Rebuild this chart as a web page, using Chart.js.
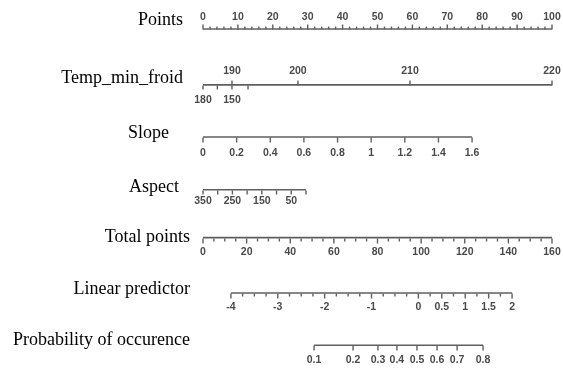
<!DOCTYPE html>
<html>
<head>
<meta charset="utf-8">
<script src="https://cdn.jsdelivr.net/npm/chart.js@4.4.1/dist/chart.umd.min.js"></script>
<style>
  html, body { margin: 0; padding: 0; background: #fff; }
</style>
</head>
<body>
<canvas id="myChart" width="563" height="371"></canvas>
<script>
// row names of the nomogram
let rowTitles = ['Points', 'Temp_min_froid', 'Slope', 'Aspect', 'Total points', 'Linear predictor', 'Probability of occurence'];

// Points (0-100)
let pointsLabels = [0, 10, 20, 30, 40, 50, 60, 70, 80, 90, 100];

// Temp_min_froid - not monotone, positions read as Points
let tempTopValues = [190, 200, 210, 220];
let tempTopPoints = [8.3, 27.2, 59.3, 100];
let tempBottomLabels = ['180', '', '150', ''];
let tempBottomPoints = [0, 4.1, 8.3, 12.9];

// Slope
let slopeValues = [0, 0.2, 0.4, 0.6, 0.8, 1, 1.2, 1.4, 1.6];
let slopeEnds = [0, 1.6];
let slopeEndPoints = [0, 77.1];

// Aspect
let aspectValues = [350, 300, 250, 200, 150, 100, 50, 0];
let aspectLabels = ['350', '', '250', '', '150', '', '50', ''];
let aspectEnds = [350, 0];
let aspectEndPoints = [0, 29.5];

// Total points (0-160)
let totalLabels = [0, 20, 40, 60, 80, 100, 120, 140, 160];

// Linear predictor
let lpLabels = [-4, -3, -2, -1, 0, 0.5, 1, 1.5, 2];
let lpEnds = [-4, 2];
let lpEndTotal = [12.8, 141.7];

// Probability of occurence, positions read as Total points
let probLabels = ['0.1', '0.2', '0.3', '0.4', '0.5', '0.6', '0.7', '0.8'];
let probTotal = [50.9, 68.8, 80.2, 88.9, 98.1, 107.3, 116.5, 128.4];

// ---- layout / style ----
let rowLevel = [0, 1.06, 2.05, 3.05, 3.96, 5.01, 6];
let titleRight = [183, 183, 169, 179, 190, 190, 190];
let titleDy = [-9, -7, -4, -3, -1, -4, -5];
let lineColor = '#5f5f5f';
let labelColor = '#4a4a4a';
let labelFont = 'bold 10.5px "Liberation Sans", Arial, sans-serif';
let titleFont = '18px "Liberation Serif", "Times New Roman", serif';

function lin(v, ends, out) {
    return out[0] + (v - ends[0]) / (ends[1] - ends[0]) * (out[1] - out[0]);
}

// build row descriptions
let rows = [];

// Points
(function () {
    let ticks = [], labels = [];
    for (let v = 0; v <= 100; v += 2) ticks.push({ pos: v, up: v % 10 === 0 ? 5 : 3, down: 0 });
    pointsLabels.forEach(v => labels.push({ pos: v, text: String(v), dy: -12 }));
    rows.push({ axis: 'x', from: 0, to: 100, ticks, labels });
})();

// Temp_min_froid
(function () {
    let ticks = [], labels = [];
    tempTopValues.forEach((v, i) => {
        ticks.push({ pos: tempTopPoints[i], up: 5, down: 0 });
        labels.push({ pos: tempTopPoints[i], text: String(v), dy: -14 });
    });
    tempBottomLabels.forEach((t, i) => {
        ticks.push({ pos: tempBottomPoints[i], up: 0, down: 4 });
        if (t) labels.push({ pos: tempBottomPoints[i], text: t, dy: 15 });
    });
    rows.push({ axis: 'x', from: 0, to: 100, ticks, labels });
})();

// Slope
(function () {
    let ticks = [], labels = [];
    slopeValues.forEach(v => {
        let p = lin(v, slopeEnds, slopeEndPoints);
        ticks.push({ pos: p, up: 0, down: 5 });
        labels.push({ pos: p, text: String(v), dy: 16 });
    });
    rows.push({ axis: 'x', from: slopeEndPoints[0], to: slopeEndPoints[1], ticks, labels });
})();

// Aspect
(function () {
    let ticks = [], labels = [];
    aspectValues.forEach((v, i) => {
        let p = lin(v, aspectEnds, aspectEndPoints);
        ticks.push({ pos: p, up: 0, down: 4 });
        if (aspectLabels[i]) labels.push({ pos: p, text: aspectLabels[i], dy: 11 });
    });
    rows.push({ axis: 'x', from: aspectEndPoints[0], to: aspectEndPoints[1], ticks, labels });
})();

// Total points
(function () {
    let ticks = [], labels = [];
    for (let v = 0; v <= 160; v += 5) ticks.push({ pos: v, up: 0, down: v % 20 === 0 ? 5 : 3 });
    totalLabels.forEach(v => labels.push({ pos: v, text: String(v), dy: 14 }));
    rows.push({ axis: 'xt', from: 0, to: 160, ticks, labels });
})();

// Linear predictor
(function () {
    let ticks = [], labels = [];
    for (let v = lpEnds[0]; v <= lpEnds[1] + 1e-9; v += 0.25) {
        let major = lpLabels.some(l => Math.abs(l - v) < 1e-9);
        ticks.push({ pos: lin(v, lpEnds, lpEndTotal), up: 0, down: major ? 5 : 3 });
    }
    lpLabels.forEach(v => labels.push({ pos: lin(v, lpEnds, lpEndTotal), text: String(v), dy: 14 }));
    rows.push({ axis: 'xt', from: lpEndTotal[0], to: lpEndTotal[1], ticks, labels });
})();

// Probability
(function () {
    let ticks = [], labels = [];
    probLabels.forEach((t, i) => {
        ticks.push({ pos: probTotal[i], up: 0, down: 5 });
        labels.push({ pos: probTotal[i], text: t, dy: 15 });
    });
    rows.push({ axis: 'xt', from: probTotal[0], to: probTotal[probTotal.length - 1], ticks, labels });
})();

// axis lines as datasets
let datasets = rows.map((r, i) => ({
    label: rowTitles[i],
    data: [{ x: r.from, y: rowLevel[i] }, { x: r.to, y: rowLevel[i] }],
    xAxisID: r.axis,
    showLine: true,
    borderColor: lineColor,
    borderWidth: 1.6,
    pointRadius: 0,
    fill: false
}));

// ticks, tick labels and row titles
let nomogramPlugin = {
    id: 'nomogram',
    afterDatasetsDraw(chart) {
        let ctx = chart.ctx;
        let ys = chart.scales.y;
        ctx.save();
        rows.forEach((r, i) => {
            let xs = chart.scales[r.axis];
            let y = Math.round(ys.getPixelForValue(rowLevel[i])) + 0.5;
            ctx.strokeStyle = lineColor;
            ctx.lineWidth = 1.4;
            r.ticks.forEach(t => {
                let x = xs.getPixelForValue(t.pos);
                ctx.beginPath();
                ctx.moveTo(x, y - t.up);
                ctx.lineTo(x, y + t.down);
                ctx.stroke();
            });
            ctx.fillStyle = labelColor;
            ctx.font = labelFont;
            ctx.textAlign = 'center';
            ctx.textBaseline = 'middle';
            r.labels.forEach(l => {
                ctx.fillText(l.text, xs.getPixelForValue(l.pos), y + l.dy);
            });
            ctx.fillStyle = '#000';
            ctx.font = titleFont;
            ctx.textAlign = 'right';
            ctx.fillText(rowTitles[i], titleRight[i], y + titleDy[i]);
        });
        ctx.restore();
    }
};

let options = {
    responsive: false,
    animation: false,
    layout: { padding: { left: 203, right: 11, top: 0, bottom: 0 } },
    plugins: { legend: { display: false }, tooltip: { enabled: false } },
    scales: {
        x: { type: 'linear', min: 0, max: 100, display: false },
        xt: { type: 'linear', min: 0, max: 160, display: false, position: 'bottom' },
        y: { type: 'linear', min: -0.55, max: 6.49, reverse: true, display: false }
    }
};

let ctx = document.getElementById("myChart").getContext("2d");
let myNomogram = new Chart(ctx, {
    type: 'scatter',
    data: { datasets: datasets },
    options: options,
    plugins: [nomogramPlugin]
});
</script>
</body>
</html>
